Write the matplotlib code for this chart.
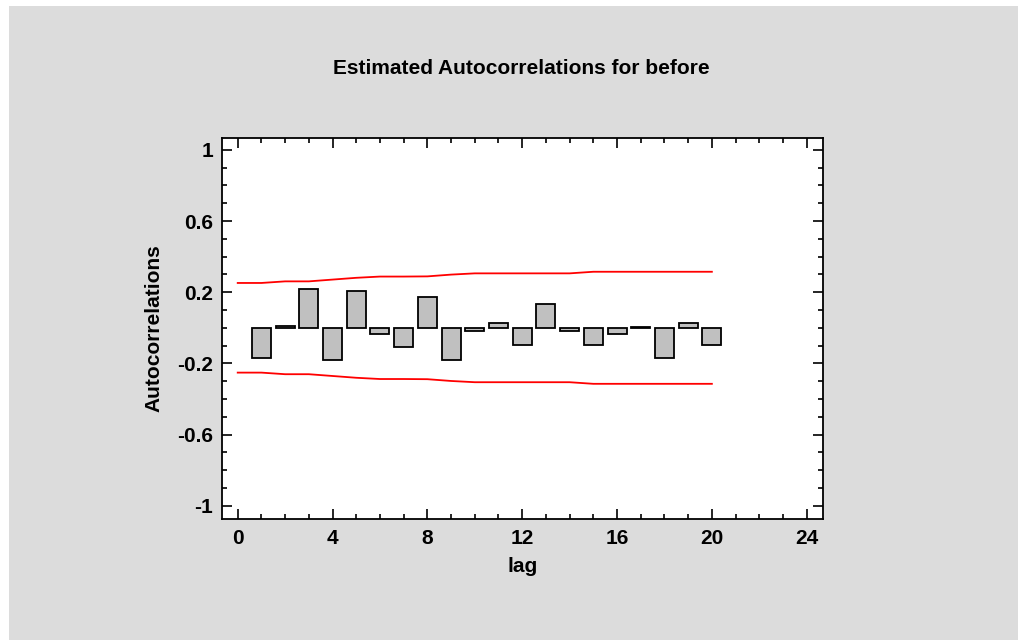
import matplotlib
matplotlib.use("Agg")
import matplotlib.pyplot as plt
from matplotlib.patches import Rectangle
from matplotlib.ticker import MultipleLocator, FixedLocator

# ---- data ----
lags = list(range(1, 21))
acf = [-0.172, 0.011, 0.217, -0.179, 0.207, -0.036, -0.108, 0.174, -0.179, -0.019,
       0.028, -0.099, 0.136, -0.019, -0.099, -0.036, 0.006, -0.172, 0.028, -0.099]
limit_lags = list(range(0, 21))
upper_limit = [0.252, 0.252, 0.261, 0.261, 0.271, 0.281, 0.288, 0.288, 0.289, 0.299,
               0.306, 0.306, 0.306, 0.306, 0.306, 0.315, 0.315, 0.315, 0.315, 0.315, 0.315]
lower_limit = [-v for v in upper_limit]
x_ticks = [0, 4, 8, 12, 16, 20, 24]
y_ticks = [-1, -0.6, -0.2, 0.2, 0.6, 1]
y_ticklabels = ["-1", "-0.6", "-0.2", "0.2", "0.6", "1"]
title = "Estimated Autocorrelations for before"
xlabel = "lag"
ylabel = "Autocorrelations"

plt.rcParams['font.family'] = ['Liberation Sans', 'DejaVu Sans']
plt.rcParams['font.weight'] = 'bold'

W, H = 1018, 640
fig = plt.figure(figsize=(W / 100, H / 100), dpi=100, facecolor='white')
# gray panel
fig.patches.append(Rectangle((9 / W, 0), 1 - 9 / W, 1 - 6 / H, transform=fig.transFigure,
                             facecolor='#dcdcdc', edgecolor='none', zorder=-5))

ax = fig.add_axes([221.7 / W, 1 - 519 / H, (823.3 - 221.7) / W, (519 - 138) / H])
ax.set_zorder(2)
ax.set_facecolor('white')

ax.bar(lags, acf, width=0.8, color='#c0c0c0', edgecolor='black', linewidth=1.3, zorder=2)
ax.plot(limit_lags, upper_limit, color='red', linewidth=1.3, zorder=3)
ax.plot(limit_lags, lower_limit, color='red', linewidth=1.3, zorder=3)

ax.set_xlim(-0.675, 24.7)
ax.set_ylim(-1.075, 1.067)

ax.xaxis.set_major_locator(FixedLocator(x_ticks))
ax.xaxis.set_minor_locator(MultipleLocator(1))
ax.yaxis.set_major_locator(FixedLocator(y_ticks))
ax.set_yticklabels(y_ticklabels)
ax.yaxis.set_minor_locator(MultipleLocator(0.1))

ax.tick_params(which='both', direction='in', top=True, right=True, width=1.2,
               labelsize=15, colors='black')
ax.tick_params(which='major', length=7)
ax.tick_params(which='minor', length=3.5)
ax.tick_params(axis='y', pad=6)
ax.tick_params(axis='x', pad=7)
for lab in ax.get_xticklabels() + ax.get_yticklabels():
    lab.set_fontweight('bold')

for s in ax.spines.values():
    s.set_linewidth(1.3)

ax.set_xlabel(xlabel, fontsize=15, fontweight='bold', labelpad=6.5)
ax.set_ylabel(ylabel, fontsize=15, fontweight='bold', labelpad=10)
fig.text(521 / W, 1 - 68 / H, title, ha='center', va='center', fontsize=15, fontweight='bold')

fig.savefig('out.png', dpi=100, facecolor=fig.get_facecolor())
